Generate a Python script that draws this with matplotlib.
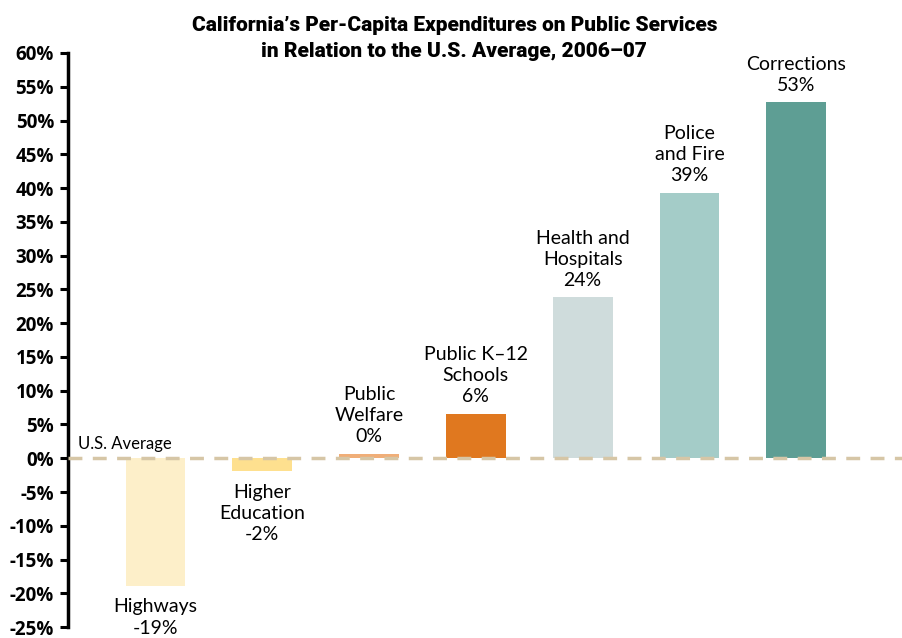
import numpy as np
import matplotlib.pyplot as plt

# data
categories = ['Highways', 'Higher\nEducation', 'Public\nWelfare', 'Public K\u201312\nSchools',
              'Health and\nHospitals', 'Police\nand Fire', 'Corrections']
values = [-18.9, -1.9, 0.7, 6.6, 23.8, 39.3, 52.7]
shown = [-19, -2, 0, 6, 24, 39, 53]
colors = ['#FDEFC9', '#FEE08F', '#F0AE78', '#E0781F', '#CFDCDC', '#A4CCC8', '#5E9E94']
yticks = list(range(-25, 61, 5))

fig = plt.figure(figsize=(9.03, 6.38), dpi=100)
ax = fig.add_axes([0.0753, 0.017, 0.9247, 0.9])

x = np.arange(len(values))
ax.bar(x, values, width=0.56, color=colors, zorder=2)
ax.axhline(0, color='#D6C6A6', lw=2.5, ls=(0, (4, 3)), zorder=3)

for xi, v, s, lab in zip(x, values, shown, categories):
    txt = f'{lab}\n{s}%'
    if v >= 0:
        ax.annotate(txt, (xi, v), xytext=(0, 6), textcoords='offset points',
                    ha='center', va='bottom', fontsize=14, family='Lato',
                    linespacing=1.3, annotation_clip=False)
    else:
        ax.annotate(txt, (xi, v), xytext=(0, -9), textcoords='offset points',
                    ha='center', va='top', fontsize=14, family='Lato',
                    linespacing=1.3, annotation_clip=False)

ax.text(-0.73, 1.0, 'U.S. Average', fontsize=12, family='Lato', va='bottom', ha='left')

ax.set_xlim(-0.82, 7.0)
ax.set_ylim(-25, 60)
ax.set_yticks(yticks)
ax.set_yticklabels([f'{t}%' for t in yticks], fontweight='bold', family='Open Sans', fontsize=13.5)
ax.tick_params(axis='y', length=6, width=2.2, pad=4)
ax.set_xticks([])
for side in ['top', 'right', 'bottom']:
    ax.spines[side].set_visible(False)
ax.spines['left'].set_linewidth(2.5)

fig.text(0.503, 0.94, 'California\u2019s Per-Capita Expenditures on Public Services\nin Relation to the U.S. Average, 2006\u201307',
         ha='center', va='center', fontsize=15, fontweight='black',
         family='Roboto', linespacing=1.5)

fig.savefig('out.png', dpi=100)
